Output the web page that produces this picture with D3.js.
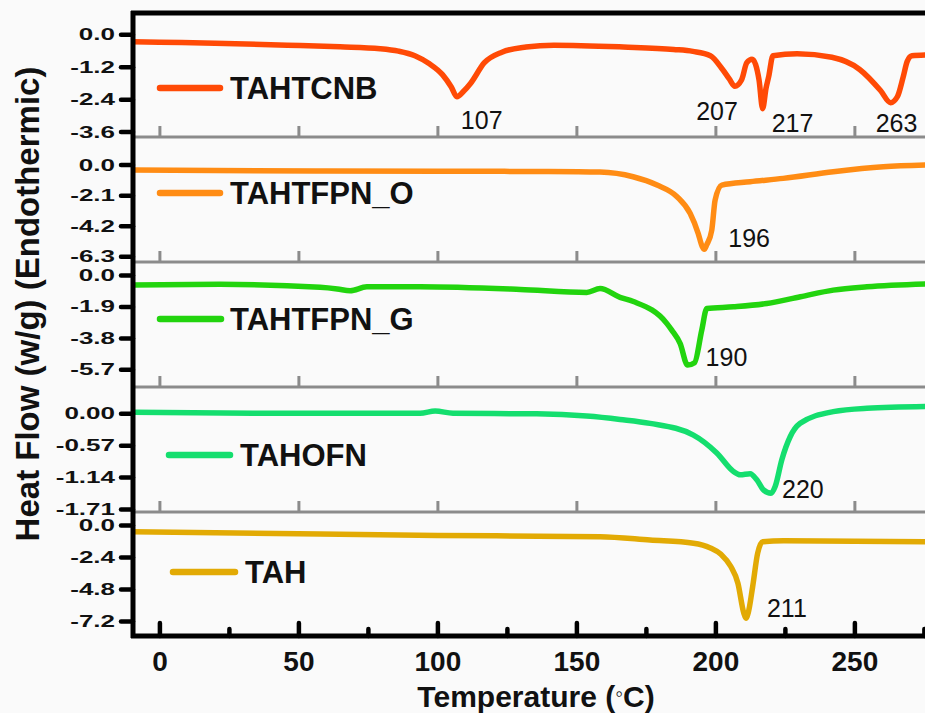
<!DOCTYPE html>
<html>
<head>
<meta charset="utf-8">
<script src="https://cdn.jsdelivr.net/npm/d3@7"></script>
<style>
  html, body { margin: 0; padding: 0; background: #fafafa; }
  svg { display: block; font-family: "Liberation Sans", Arial, sans-serif; }
</style>
</head>
<body>
<script>
// ---------------- data ----------------
const seriesNames = ["TAHTCNB", "TAHTFPN_O", "TAHTFPN_G", "TAHOFN", "TAH"];

// TAHTCNB: temperature (°C) and heat flow (W/g)
const tahtcnbTemp = [-9.5, 0, 20, 46, 65, 79.4, 86, 91.9, 97, 101.9, 105, 107, 109.5, 111.9, 116.9, 123.2, 131.9, 141.9, 166.9, 185, 191.9, 198.2, 202.6, 205, 207, 209.4, 211.3, 213.2, 215.7, 217, 218.2, 219.2, 220.7, 229.4, 241.9, 251.9, 259.4, 263, 265.5, 267.5, 269, 270.7, 275.4];
const tahtcnbHeat = [-0.27, -0.29, -0.33, -0.40, -0.46, -0.53, -0.62, -0.79, -1.08, -1.50, -1.95, -2.31, -2.10, -1.82, -1.05, -0.66, -0.47, -0.40, -0.47, -0.56, -0.63, -0.79, -1.30, -1.65, -1.92, -1.69, -1.05, -0.92, -1.69, -2.75, -2.00, -1.55, -0.79, -0.72, -0.85, -1.30, -2.08, -2.53, -2.30, -1.60, -1.00, -0.79, -0.76];

// TAHTFPN_O
const tahtfpnOTemp = [-9.5, 20, 60, 100, 140, 158.5, 170.4, 179, 186.2, 190.9, 193.8, 195.2, 196, 196.9, 198.7, 199.9, 202.3, 212.5, 224.4, 242.4, 260.4, 275.4];
const tahtfpnOHeat = [-0.38, -0.41, -0.44, -0.46, -0.48, -0.52, -0.84, -1.41, -2.21, -3.35, -4.72, -5.60, -5.82, -5.50, -4.50, -2.44, -1.41, -1.18, -0.95, -0.49, -0.15, -0.03];

// TAHTFPN_G
const tahtfpnGTemp = [-9.5, 21.8, 57.8, 64, 68.6, 74.6, 93.8, 129.8, 153.7, 158.5, 165.7, 170.5, 182.5, 184.3, 187.3, 190, 192.5, 195.1, 196.9, 206.5, 218.5, 230.6, 242.4, 254.5, 275.4];
const tahtfpnGHeat = [-0.60, -0.56, -0.74, -0.84, -0.95, -0.71, -0.71, -0.87, -1.05, -0.82, -1.35, -1.60, -2.92, -3.33, -4.13, -5.44, -5.30, -3.33, -2.02, -1.92, -1.72, -1.31, -0.91, -0.71, -0.54];

// TAHOFN
const tahofnTemp = [-9.5, 33.7, 93.8, 99.2, 105.6, 135.7, 153.7, 165.7, 176.5, 192.1, 200.5, 206.5, 208.9, 212.5, 214.9, 217.3, 220, 221.5, 223.9, 226.9, 230.5, 242.4, 254.5, 275.4];
const tahofnHeat = [0.02, 0.00, 0.00, 0.04, 0.00, -0.01, -0.05, -0.11, -0.18, -0.39, -0.71, -1.04, -1.10, -1.08, -1.19, -1.37, -1.43, -1.31, -0.83, -0.42, -0.18, 0.03, 0.09, 0.12];

// TAH
const tahTemp = [-9.5, 57.8, 100, 158.5, 176.5, 192.1, 198, 202, 205.5, 208.1, 210.2, 211, 211.8, 213.4, 215.2, 217, 224.5, 275.4];
const tahHeat = [-0.50, -0.68, -0.78, -0.88, -1.13, -1.37, -1.70, -2.20, -3.10, -4.37, -6.60, -7.00, -6.60, -4.63, -2.12, -1.25, -1.18, -1.25];

// labelled peak temperatures (°C) for each series
const peakTemps = [[107, 207, 217, 263], [196], [190], [220], [211]];

// axis ticks
const xTickValues = [0, 50, 100, 150, 200, 250];
const xMinorTickValues = [25, 75, 125, 175, 225, 275];
const yTickValues = [
  [0, -1.2, -2.4, -3.6],
  [0, -2.1, -4.2, -6.3],
  [0, -1.9, -3.8, -5.7],
  [0, -0.57, -1.14, -1.71],
  [0, -2.4, -4.8, -7.2]
];
const yTickLabels = [
  ["0.0", "-1.2", "-2.4", "-3.6"],
  ["0.0", "-2.1", "-4.2", "-6.3"],
  ["0.0", "-1.9", "-3.8", "-5.7"],
  ["0.00", "-0.57", "-1.14", "-1.71"],
  ["0.0", "-2.4", "-4.8", "-7.2"]
];

const seriesTemps = [tahtcnbTemp, tahtfpnOTemp, tahtfpnGTemp, tahofnTemp, tahTemp];
const seriesHeats = [tahtcnbHeat, tahtfpnOHeat, tahtfpnGHeat, tahofnHeat, tahHeat];

// ---------------- layout / style ----------------
const seriesColors = ["#ff4a06", "#ff8c14", "#22d40e", "#14de6e", "#e2aa04"];
const W = 925, H = 713;
const plotLeft = 133, plotRight = 925, plotTop = 13, plotBottom = 636;

const panels = [
  { top: 13,  bottom: 137, lo: -3.8,  hi: 0.79 },
  { top: 137, bottom: 262, lo: -6.69, hi: 1.89 },
  { top: 262, bottom: 387, lo: -6.77, hi: 0.79 },
  { top: 387, bottom: 512, lo: -1.765, hi: 0.47 },
  { top: 512, bottom: 636, lo: -8.33, hi: 0.975 }
];
const legendLayout = [
  { x1: 160, x2: 220, y: 88,  tx: 230 },
  { x1: 160, x2: 220, y: 193, tx: 230 },
  { x1: 160, x2: 221, y: 319, tx: 230 },
  { x1: 169, x2: 230, y: 455, tx: 240 },
  { x1: 173, x2: 235, y: 572, tx: 245 }
];
const peakLabelLayout = [
  [{ dx: 4, dy: 32, anchor: "start" }, { dx: 3, dy: 34, anchor: "end" }, { dx: 9, dy: 23, anchor: "start" }, { dx: 6, dy: 29, anchor: "middle" }],
  [{ dx: 24, dy: -2, anchor: "start" }],
  [{ dx: 18, dy: 1, anchor: "start" }],
  [{ dx: 11, dy: 5, anchor: "start" }],
  [{ dx: 21, dy: -1, anchor: "start" }]
];

const svg = d3.select("body").append("svg").attr("width", W).attr("height", H);
svg.append("rect").attr("width", W).attr("height", H).attr("fill", "#fafafa");

const x = d3.scaleLinear().domain([-9.5, 275.4]).range([plotLeft, plotRight]);

svg.append("defs").append("clipPath").attr("id", "plot-clip")
  .append("rect").attr("x", plotLeft).attr("y", plotTop)
  .attr("width", plotRight - plotLeft).attr("height", plotBottom - plotTop);

const yScales = panels.map(p => d3.scaleLinear().domain([p.lo, p.hi]).range([p.bottom, p.top]));

// panel separators and inner gray ticks (panels 1-4)
panels.slice(0, 4).forEach((p, i) => {
  const g = svg.append("g").attr("transform", `translate(0,${p.bottom})`)
    .call(d3.axisBottom(x).tickValues(xTickValues).tickSize(-11).tickFormat("").tickSizeOuter(0));
  g.select(".domain").remove();
  g.selectAll(".tick line").attr("stroke", "#8b8b8b").attr("stroke-width", 3);
  svg.append("line")
    .attr("x1", plotLeft).attr("x2", plotRight)
    .attr("y1", p.bottom).attr("y2", p.bottom)
    .attr("stroke", "#8b8b8b").attr("stroke-width", 3);
});

// curves
const curveLayer = svg.append("g").attr("clip-path", "url(#plot-clip)");
seriesNames.forEach((name, i) => {
  const y = yScales[i];
  const pts = seriesTemps[i].map((t, k) => [t, seriesHeats[i][k]]);
  const line = d3.line().x(d => x(d[0])).y(d => y(d[1])).curve(d3.curveMonotoneX);
  curveLayer.append("path")
    .datum(pts)
    .attr("d", line)
    .attr("fill", "none")
    .attr("stroke", seriesColors[i])
    .attr("stroke-width", 5.5)
    .attr("stroke-linejoin", "round")
    .attr("stroke-linecap", "round");
});

// legends
seriesNames.forEach((name, i) => {
  const L = legendLayout[i];
  svg.append("line")
    .attr("x1", L.x1).attr("x2", L.x2).attr("y1", L.y).attr("y2", L.y)
    .attr("stroke", seriesColors[i]).attr("stroke-width", 6.5).attr("stroke-linecap", "round");
  svg.append("text")
    .attr("x", L.tx).attr("y", L.y).attr("dy", "0.35em")
    .attr("font-size", 31).attr("font-weight", "bold").attr("fill", "#111")
    .text(name);
});

// peak labels, positioned from the data point at each labelled temperature
peakTemps.forEach((temps, i) => {
  temps.forEach((t, j) => {
    const k = seriesTemps[i].indexOf(t);
    const v = seriesHeats[i][k];
    const lay = peakLabelLayout[i][j];
    svg.append("text")
      .attr("x", x(t) + lay.dx)
      .attr("y", yScales[i](v) + lay.dy)
      .attr("text-anchor", lay.anchor)
      .attr("font-size", 25)
      .attr("fill", "#111")
      .text(String(t));
  });
});

// left axes, one per panel
panels.forEach((p, i) => {
  const g = svg.append("g").attr("transform", `translate(${plotLeft},0)`)
    .call(d3.axisLeft(yScales[i])
      .tickValues(yTickValues[i])
      .tickFormat((d, k) => yTickLabels[i][k])
      .tickSize(12).tickPadding(6).tickSizeOuter(0));
  g.select(".domain").remove();
  g.selectAll(".tick line").attr("stroke", "#000").attr("stroke-width", 4.5).attr("stroke-linecap", "round");
  g.selectAll(".tick text")
    .attr("font-size", 26).attr("font-weight", "bold").attr("fill", "#111")
    .attr("font-family", "'Liberation Sans', Arial, sans-serif")
    .attr("transform", "scale(1,0.66)");
});

// bottom axis: major and minor ticks
const bx = svg.append("g").attr("transform", `translate(0,${plotBottom})`)
  .call(d3.axisBottom(x).tickValues(xTickValues).tickSize(-13).tickPadding(15).tickSizeOuter(0));
bx.select(".domain").remove();
bx.selectAll(".tick line").attr("stroke", "#000").attr("stroke-width", 4.5).attr("stroke-linecap", "round");
bx.selectAll(".tick text")
  .attr("font-size", 28).attr("font-weight", "bold").attr("fill", "#111")
  .attr("font-family", "'Liberation Sans', Arial, sans-serif");
const bm = svg.append("g").attr("transform", `translate(0,${plotBottom})`)
  .call(d3.axisBottom(x).tickValues(xMinorTickValues).tickSize(-7).tickFormat("").tickSizeOuter(0));
bm.select(".domain").remove();
bm.selectAll(".tick line").attr("stroke", "#000").attr("stroke-width", 4.5).attr("stroke-linecap", "round");

// frame: top, left, bottom
svg.append("line").attr("x1", plotLeft - 2).attr("x2", plotRight).attr("y1", plotTop).attr("y2", plotTop)
  .attr("stroke", "#000").attr("stroke-width", 5);
svg.append("line").attr("x1", plotLeft).attr("x2", plotLeft).attr("y1", plotTop - 2).attr("y2", plotBottom + 2)
  .attr("stroke", "#000").attr("stroke-width", 5);
svg.append("line").attr("x1", plotLeft - 2).attr("x2", plotRight).attr("y1", plotBottom).attr("y2", plotBottom)
  .attr("stroke", "#000").attr("stroke-width", 5);

// axis titles
svg.append("text")
  .attr("transform", "translate(39,304) rotate(-90)")
  .attr("text-anchor", "middle")
  .attr("font-size", 33).attr("font-weight", "bold").attr("fill", "#111")
  .text("Heat Flow (w/g) (Endothermic)");

const xt = svg.append("text")
  .attr("x", 536).attr("y", 707)
  .attr("text-anchor", "middle")
  .attr("font-size", 30).attr("font-weight", "bold").attr("fill", "#111");
xt.append("tspan").text("Temperature (");
xt.append("tspan").attr("font-weight", "normal").attr("font-size", 22).attr("dy", -6).text("◦");
xt.append("tspan").attr("dy", 6).text("C)");
</script>
</body>
</html>
